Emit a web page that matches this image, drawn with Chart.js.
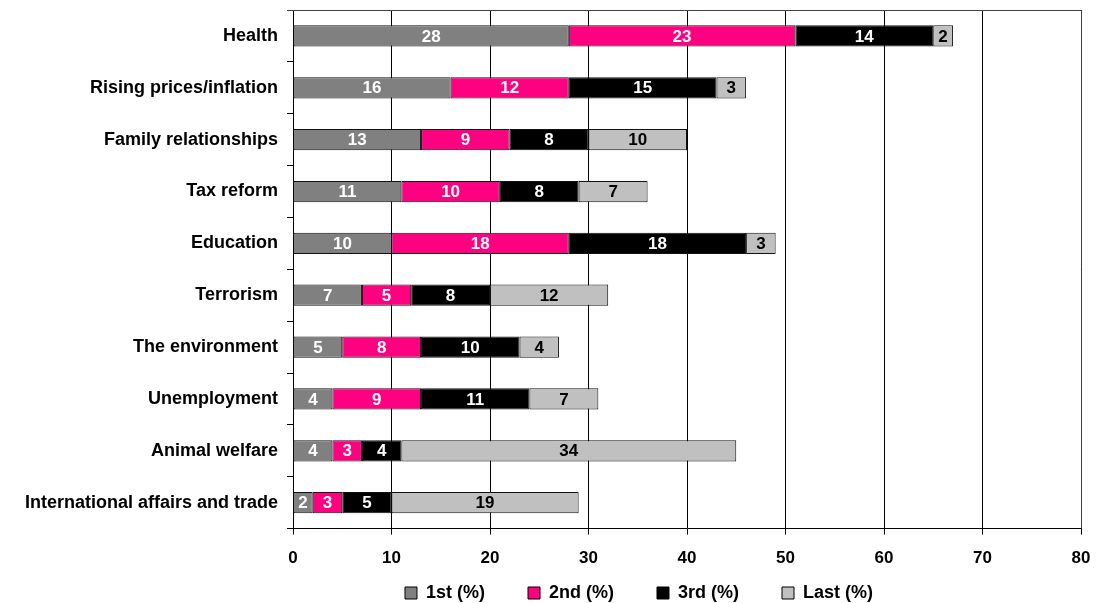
<!DOCTYPE html>
<html>
<head>
<meta charset="utf-8">
<script src="https://cdn.jsdelivr.net/npm/chart.js@4"></script>
<style>
html,body{margin:0;padding:0;background:#fff;}
#wrap{width:1096px;height:603px;position:relative;}
</style>
</head>
<body>
<div id="wrap"><canvas id="c" width="1096" height="603"></canvas></div>
<script>
const categories = ["Health","Rising prices/inflation","Family relationships","Tax reform","Education","Terrorism","The environment","Unemployment","Animal welfare","International affairs and trade"];
const first  = [28,16,13,11,10,7,5,4,4,2];
const second = [23,12,9,10,18,5,8,9,3,3];
const third  = [14,15,8,8,18,8,10,11,4,5];
const last   = [2,3,10,7,3,12,4,7,34,19];
const seriesNames = ["1st (%)","2nd (%)","3rd (%)","Last (%)"];
const xTicks = [0,10,20,30,40,50,60,70,80];

const FONT = "'Liberation Sans', Arial, sans-serif";

const labelPlugin = {
  id: 'barLabels',
  afterDatasetsDraw(chart) {
    const ctx = chart.ctx;
    ctx.save();
    ctx.font = "bold 17px " + FONT;
    ctx.textAlign = 'center';
    ctx.textBaseline = 'middle';
    chart.data.datasets.forEach((ds, i) => {
      const meta = chart.getDatasetMeta(i);
      meta.data.forEach((el, j) => {
        const v = ds.data[j];
        if (!v) return;
        const p = el.getProps(['x','y','base'], true);
        ctx.fillStyle = ds.labelColor;
        ctx.fillText(String(v), (p.x + p.base) / 2, p.y + 1);
      });
    });
    ctx.restore();
  }
};

const LEG_PAD = 43;
const LEG_H = 20;
const layoutPlugin = {
  id: 'layoutTweaks',
  beforeUpdate(chart) {
    const lg = chart.legend;
    if (lg && !lg._patched) {
      const orig = lg.fit.bind(lg);
      lg.fit = function () { orig(); this.height = LEG_H; };
      lg._patched = true;
    }
  },
  beforeDraw(chart) {
    const lg = chart.legend;
    if (!lg) return;
    lg.left = 182; lg.right = 1096; lg.width = 914;
    lg.top = 593 - LEG_PAD - 9; lg.bottom = 603; lg.height = lg.bottom - lg.top;
  },
  afterDraw(chart) {
    const a = chart.chartArea, ctx = chart.ctx;
    ctx.save();
    ctx.strokeStyle = '#404040';
    ctx.lineWidth = 1;
    ctx.beginPath();
    ctx.moveTo(a.left - 6, Math.round(a.top) + 0.5);
    ctx.lineTo(Math.round(a.right) + 0.5, Math.round(a.top) + 0.5);
    ctx.lineTo(Math.round(a.right) + 0.5, a.bottom);
    ctx.stroke();
    ctx.restore();
  }
};

const colors = ['#808080', '#FF0080', '#000000', '#C0C0C0'];
const labelColors = ['#ffffff', '#ffffff', '#ffffff', '#000000'];
const values = [first, second, third, last];

new Chart(document.getElementById('c'), {
  type: 'bar',
  data: {
    labels: categories,
    datasets: values.map((d, i) => ({
      label: seriesNames[i],
      data: d,
      backgroundColor: colors[i],
      borderColor: '#111',
      borderWidth: 1,
      borderSkipped: false,
      labelColor: labelColors[i],
      barPercentage: 0.41,
      categoryPercentage: 1
    }))
  },
  options: {
    indexAxis: 'y',
    responsive: false,
    animation: false,
    devicePixelRatio: 1,
    layout: { padding: { left: 0, right: 15, top: 10, bottom: 0 } },
    scales: {
      x: {
        stacked: true,
        min: 0, max: 80,
        afterBuildTicks(scale) { scale.ticks = xTicks.map(v => ({ value: v })); },
        afterFit(scale) { scale.paddingRight = 0; scale.paddingLeft = 0; },
        grid: { color: '#000', lineWidth: 1, tickLength: 6, drawTicks: true },
        border: { color: '#000', width: 1 },
        ticks: { color: '#000', font: { family: FONT, size: 17, weight: 'bold' }, padding: 14, maxRotation: 0 }
      },
      y: {
        stacked: true,
        afterFit(scale) { scale.width = 293; scale.paddingTop = 0; scale.paddingBottom = 0; },
        grid: { drawOnChartArea: false, color: '#000', tickLength: 6, offset: true },
        border: { color: '#000', width: 1 },
        ticks: { color: '#000', font: { family: FONT, size: 18, weight: 'bold' }, padding: 9, autoSkip: false }
      }
    },
    plugins: {
      legend: {
        position: 'bottom',
        labels: {
          color: '#000',
          font: { family: FONT, size: 18, weight: 'bold' },
          boxWidth: 12, boxHeight: 12,
          padding: LEG_PAD,
          generateLabels(chart) {
            return chart.data.datasets.map((ds, i) => ({
              text: ds.label, fillStyle: ds.backgroundColor, strokeStyle: '#000', lineWidth: 1,
              datasetIndex: i, hidden: false, fontColor: '#000'
            }));
          }
        }
      },
      tooltip: { enabled: false }
    }
  },
  plugins: [labelPlugin, layoutPlugin]
});
</script>
</body>
</html>
